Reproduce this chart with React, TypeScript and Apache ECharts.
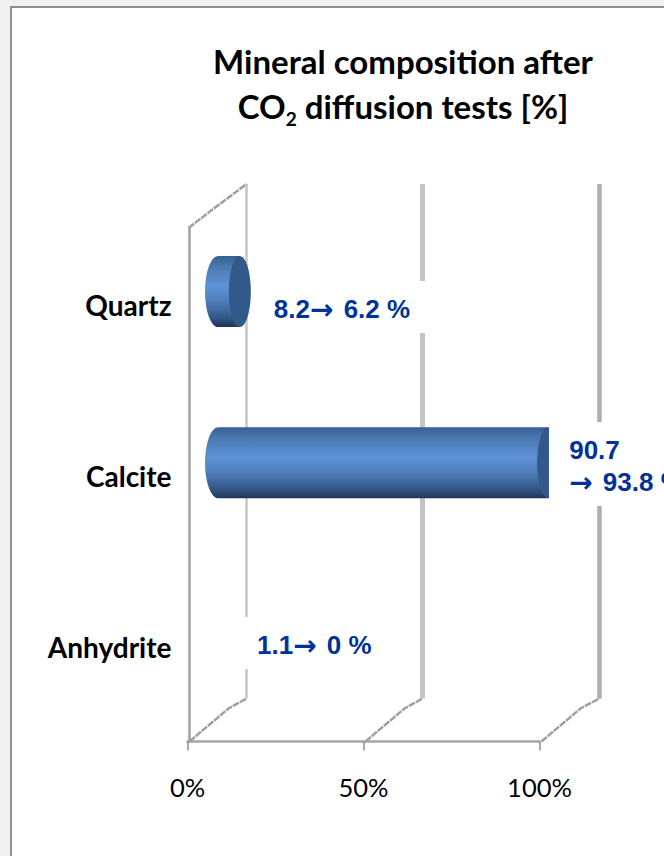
import React, { useEffect, useRef } from "react";
import * as echarts from "echarts";

const categories = ["Quartz", "Calcite", "Anhydrite"];
const afterValues = [6.2, 93.8, 0];
const valueLabels = ["8.2{a|\u2192} 6.2 %", "90.7\n{a|\u2192} 93.8 %", "1.1{a|\u2192} 0 %"];
const xTicks = [0, 50, 100];

const LABEL_FONT = "Liberation Sans";
const TITLE_FONT = "Lato";

// depth of the fake 3D box
const DY = 43;
const MID_X = 30.5;
const MID_Y = 22;

const labelLayout = [
  { textDx: 34, cy: 309, boxL: 12, boxW: 164, boxH: 52 },
  { textDx: 21, cy: 466, boxL: 14, boxW: 120, boxH: 84 },
  { textDx: 39, cy: 645, boxL: 14, boxW: 130, boxH: 52 },
];
const wallStyles = [
  { dx: 59, w: 2.5, c: "#c6c6c6" },
  { dx: 59, w: 5, c: "#c4c4c4" },
  { dx: 60, w: 4.5, c: "#aeaeae" },
];

export default function App() {
  const ref = useRef<HTMLDivElement>(null);
  useEffect(() => {
    document.body.style.margin = "0";
    const chart = echarts.init(ref.current!, null, { renderer: "svg" });

    const renderWall = (params: any, api: any) => {
      const i = params.dataIndex;
      const p = api.coord([api.value(0), 0]);
      const cs = params.coordSys;
      const base = cs.y + cs.height;
      const top = cs.y;
      const x = p[0];
      const s = wallStyles[i];
      const children: any[] = [
        {
          type: "line",
          shape: { x1: x + s.dx, y1: top - DY - 1, x2: x + s.dx, y2: base - DY },
          style: { stroke: s.c, lineWidth: s.w },
        },
        {
          type: "polyline",
          shape: { points: [[x + 2, base], [x + 41, base - 33], [x + s.dx, base - DY]] },
          style: { stroke: "#a0a0a0", lineWidth: 2.5, lineDash: [7, 1], fill: "none" },
        },
      ];
      if (i === 0) {
        children.push({
          type: "polyline",
          shape: { points: [[x + 1, top], [x + 27, top - 20], [x + s.dx, top - DY - 1]] },
          style: { stroke: "#a0a0a0", lineWidth: 2.5, lineDash: [7, 1], fill: "none" },
        });
      }
      return { type: "group", children };
    };

    const renderLabel = (params: any, api: any) => {
      const i = params.dataIndex;
      const end = api.coord([api.value(0), api.value(1)]);
      const l = labelLayout[i];
      const tx = end[0] + MID_X + l.textDx;
      return {
        type: "group",
        children: [
          { type: "rect", shape: { x: tx - l.boxL, y: l.cy - 2 - l.boxH / 2, width: l.boxW, height: l.boxH }, style: { fill: "#ffffff" } },
          {
            type: "text",
            style: {
              text: valueLabels[i],
              x: tx,
              y: l.cy,
              align: "left",
              verticalAlign: "middle",
              fill: "#003399",
              fontFamily: LABEL_FONT,
              fontWeight: "bold",
              fontSize: 26,
              lineHeight: 32,
              rich: {
                a: { fontFamily: "DejaVu Sans", fontWeight: "bold", fontSize: 28, fill: "#003399", lineHeight: 32, padding: [0, 3, 0, 0] },
              },
            },
          },
        ],
      };
    };

    const renderBar = (params: any, api: any) => {
      const v = api.value(0);
      if (!v) return { type: "group", children: [] };
      const zero = api.coord([0, api.value(1)]);
      const end = api.coord([v, api.value(1)]);
      const cy = zero[1] - MID_Y;
      const ry = 35.5;
      const left = zero[0] + 17.5;
      const corner = left + 13;
      const cx = end[0] + MID_X;
      const rx = 11;
      const t = cy - ry;
      const b = cy + ry;
      const limit = api.coord([100, 0])[0] + 9.5;
      const pts: number[][] = [];
      for (let k = 0; k < 48; k++) {
        const a = (k / 48) * Math.PI * 2;
        pts.push([Math.min(cx + rx * Math.cos(a), limit), cy + ry * Math.sin(a)]);
      }
      const bodyGrad = new echarts.graphic.LinearGradient(0, 0, 0, 1, [
        { offset: 0, color: "#35608f" },
        { offset: 0.15, color: "#4a78b0" },
        { offset: 0.42, color: "#5f93d8" },
        { offset: 0.62, color: "#4f80bd" },
        { offset: 0.85, color: "#365b8c" },
        { offset: 1, color: "#1f3556" },
      ]);
      return {
        type: "group",
        children: [
          {
            type: "path",
            shape: {
              pathData: `M${corner} ${t}L${cx} ${t}L${cx} ${b}L${corner} ${b}A13 ${ry} 0 0 1 ${corner} ${t}Z`,
            },
            style: { fill: bodyGrad },
          },
          { type: "polygon", shape: { points: pts }, style: { fill: "#33588a" } },
        ],
      };
    };

    chart.setOption({
      animation: false,
      backgroundColor: "#f1f1f1",
      title: {
        text: "{t|Mineral composition after}\n{t|CO}{s|2}{t| diffusion tests [%]}",
        left: 398,
        top: 33,
        textAlign: "center",
        textStyle: {
          rich: {
            t: { fontFamily: TITLE_FONT, fontWeight: "bold", fontSize: 33, lineHeight: 45, color: "#000" },
            s: { fontFamily: TITLE_FONT, fontWeight: "bold", fontSize: 19, lineHeight: 30, color: "#000", verticalAlign: "bottom", padding: [12, 0, 0, 0] },
          },
        },
      },
      graphic: [
        {
          type: "rect",
          z: -1,
          shape: { x: 11, y: 7, width: 680, height: 880 },
          style: { fill: "#ffffff", stroke: "#8f8f8f", lineWidth: 2 },
        },
      ],
      grid: { left: 187.5, top: 228, width: 352, height: 513.5 },
      xAxis: {
        type: "value",
        min: 0,
        max: 100,
        interval: 50,
        splitLine: { show: false },
        axisLine: { show: true, lineStyle: { color: "#a6a6a6", width: 2.5 } },
        axisTick: { show: true, length: 9, lineStyle: { color: "#8c8c8c", width: 1.5 } },
        axisLabel: {
          formatter: "{value}%",
          margin: 32,
          fontFamily: TITLE_FONT,
          fontSize: 25.5,
          color: "#000",
          showMinLabel: true,
          showMaxLabel: true,
        },
      },
      yAxis: {
        type: "category",
        inverse: true,
        data: categories,
        offset: -2,
        axisLine: { show: true, lineStyle: { color: "#a6a6a6", width: 2.7 } },
        axisTick: { show: false },
        axisLabel: {
          margin: 18,
          fontFamily: TITLE_FONT,
          fontWeight: "bold",
          fontSize: 28,
          color: "#000",
          verticalAlign: "bottom",
          lineHeight: 18,
        },
      },
      series: [
        {
          type: "custom",
          name: "walls",
          z: 1,
          clip: false,
          renderItem: renderWall,
          silent: true,
          encode: { x: 0 },
          data: xTicks.map((t) => [t]),
        },
        {
          type: "custom",
          name: "labels",
          z: 2,
          clip: false,
          renderItem: renderLabel,
          encode: { x: 0, y: 1 },
          data: afterValues.map((v, i) => [v, i]),
        },
        {
          type: "custom",
          name: "bars",
          z: 3,
          clip: false,
          renderItem: renderBar,
          encode: { x: 0, y: 1 },
          data: afterValues.map((v, i) => [v, i]),
        },
      ],
    });
    return () => chart.dispose();
  }, []);
  return <div ref={ref} style={{ width: 664, height: 856 }} />;
}
